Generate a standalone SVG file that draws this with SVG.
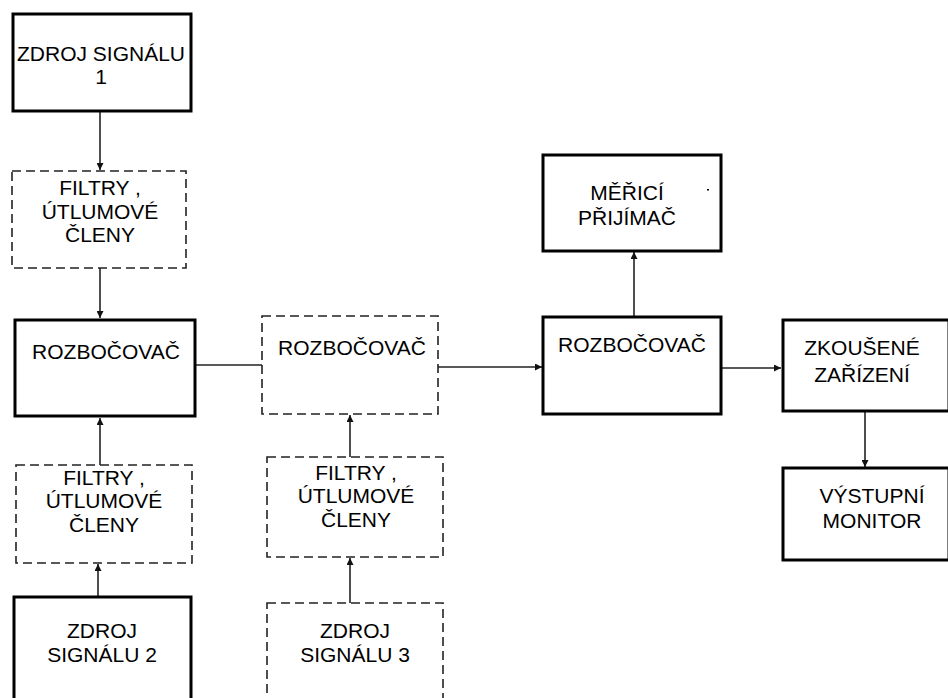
<svg xmlns="http://www.w3.org/2000/svg" width="948" height="698" viewBox="0 0 948 698">
<style>
.solid{fill:#fff;stroke:#000;stroke-width:3}
.dash{fill:#fff;stroke:#222;stroke-width:1.6;stroke-dasharray:9 5}
text{font-family:"Liberation Sans",Arial,sans-serif;font-size:21px;fill:#000;text-anchor:middle}
.c{stroke:#222;stroke-width:1.6;fill:none}
</style>
<defs>
<marker id="ah" viewBox="0 0 10 10" refX="10" refY="5" markerWidth="7" markerHeight="7" orient="auto" markerUnits="userSpaceOnUse">
<path d="M0,0 L10,5 L0,10 z" fill="#111"/>
</marker>
</defs>
<g id="connectors">
<line class="c" x1="100" y1="111" x2="100" y2="170" marker-end="url(#ah)"/>
<line class="c" x1="100" y1="268" x2="100" y2="318" marker-end="url(#ah)"/>
<line class="c" x1="100" y1="465" x2="100" y2="418" marker-end="url(#ah)"/>
<line class="c" x1="98" y1="596" x2="98" y2="564" marker-end="url(#ah)"/>
<line class="c" x1="195" y1="365" x2="262" y2="365"/>
<line class="c" x1="438" y1="367" x2="542" y2="367" marker-end="url(#ah)"/>
<line class="c" x1="350" y1="457" x2="350" y2="415" marker-end="url(#ah)"/>
<line class="c" x1="350" y1="603" x2="350" y2="558" marker-end="url(#ah)"/>
<line class="c" x1="634" y1="317" x2="634" y2="252" marker-end="url(#ah)"/>
<line class="c" x1="721" y1="368" x2="781" y2="368" marker-end="url(#ah)"/>
<line class="c" x1="865" y1="411" x2="865" y2="467" marker-end="url(#ah)"/>
</g>
<g id="zdroj1"><rect class="solid" x="13" y="14" width="178" height="97"/><text x="101" y="61">ZDROJ SIGNÁLU</text><text x="101" y="84">1</text></g>
<g id="filtry1"><rect class="dash" x="12" y="171" width="174" height="97"/><text x="100" y="195">FILTRY ,</text><text x="100" y="219">ÚTLUMOVÉ</text><text x="100" y="242">ČLENY</text></g>
<g id="rozbocovac1"><rect class="solid" x="15" y="320" width="180" height="96"/><text x="106" y="359">ROZBOČOVAČ</text></g>
<g id="rozbocovac2"><rect class="dash" x="262" y="316" width="176" height="98"/><text x="352" y="355">ROZBOČOVAČ</text></g>
<g id="filtry2"><rect class="dash" x="16" y="465" width="176" height="98"/><text x="104" y="485">FILTRY ,</text><text x="104" y="508">ÚTLUMOVÉ</text><text x="104" y="532">ČLENY</text></g>
<g id="zdroj2"><rect class="solid" x="14" y="597" width="177" height="104"/><text x="102" y="638">ZDROJ</text><text x="102" y="662">SIGNÁLU 2</text></g>
<g id="filtry3"><rect class="dash" x="267" y="457" width="176" height="100"/><text x="356" y="480">FILTRY ,</text><text x="356" y="503">ÚTLUMOVÉ</text><text x="356" y="527">ČLENY</text></g>
<g id="zdroj3"><rect class="dash" x="267" y="603" width="176" height="100"/><text x="355" y="638">ZDROJ</text><text x="355" y="662">SIGNÁLU 3</text></g>
<g id="merici"><rect class="solid" x="543" y="155" width="178" height="96"/><text x="627" y="200">MĚŘICÍ</text><text x="627" y="225">PŘIJÍMAČ</text><rect x="707" y="189" width="2" height="1.5" fill="#000"/></g>
<g id="rozbocovac3"><rect class="solid" x="543" y="317" width="178" height="97"/><text x="632" y="352">ROZBOČOVAČ</text></g>
<g id="zkousene"><rect class="solid" x="783" y="320" width="166" height="91"/><text x="862" y="355">ZKOUŠENÉ</text><text x="862" y="382">ZAŘÍZENÍ</text></g>
<g id="vystupni"><rect class="solid" x="783" y="468" width="166" height="92"/><text x="872" y="503">VÝSTUPNÍ</text><text x="872" y="528">MONITOR</text></g>
</svg>
